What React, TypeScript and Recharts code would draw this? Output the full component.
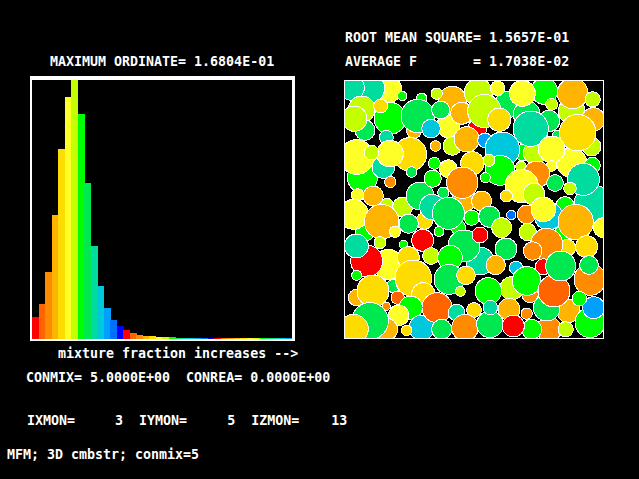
import { Bar, BarChart, Cell, Scatter, ScatterChart, XAxis, YAxis } from "recharts";

// colour table repeats every 14 bins
const palette = [
  "#ff0000", "#ff6400", "#ff8c00", "#ffb400", "#ffdc00", "#ffff28", "#c4ff00",
  "#00ff00", "#00e850", "#00dca0", "#00c8dc", "#00a0ff", "#0070ff", "#0000ff",
];

const pdfValues = [
  0.01445, 0.02288, 0.04361, 0.08055, 0.12332, 0.15702, 0.16804, 0.146, 0.10129, 0.06046,
  0.03454, 0.02028, 0.01251, 0.00862, 0.00603, 0.00408, 0.00279, 0.00214, 0.00214, 0.00149,
  0.00149, 0.00149, 0.0007, 0.0007, 0.0007, 0.0007, 0.0007, 0.0007, 0.0007, 0.0007,
  0.0007, 0.0007, 0.0007, 0.0007, 0.0007, 0.0007, 0.0007, 0.0007, 0.0007, 0.0007,
];

// blobs are [x, y, radius, colour bin] in field units, painted back to front
const backBlobs = [
  [130, 25, 40, 5], [172, 45, 14, 7], [75, 22, 44, 9], [20, 20, 38, 9], [50, 85, 40, 6],
  [60, 148, 30, 8], [135, 112, 48, 7], [107, 75, 21, 4], [207, 150, 22, 3], [230, 52, 16, 7],
  [322, 58, 42, 3], [398, 140, 28, 0], [400, 35, 42, 6], [490, 70, 40, 8], [545, 100, 40, 8],
  [680, 90, 40, 6], [745, 115, 35, 3], [740, 197, 28, 6], [640, 165, 18, 8], [598, 30, 40, 7],
  [612, 120, 32, 8], [310, 135, 35, 5], [322, 195, 28, 6], [535, 215, 25, 7], [570, 215, 35, 6],
  [680, 245, 45, 5], [52, 290, 45, 7], [115, 258, 34, 9], [195, 220, 50, 4], [382, 247, 35, 4],
  [355, 360, 35, 3], [410, 360, 30, 3], [125, 372, 20, 6], [173, 378, 30, 6], [225, 345, 42, 8],
  [340, 440, 22, 7], [238, 420, 25, 4], [60, 450, 30, 7], [745, 370, 58, 9], [660, 375, 28, 7],
  [775, 440, 30, 5], [610, 405, 42, 10], [545, 400, 28, 2], [655, 455, 25, 7], [667, 500, 25, 4],
];

const midBlobs = [
  [28, 113, 38, 6], [218, 105, 50, 8], [258, 143, 28, 10], [124, 169, 21, 9], [275, 38, 17, 6],
  [350, 97, 33, 3], [287, 87, 27, 8], [418, 90, 50, 6], [458, 22, 22, 5], [463, 116, 35, 4],
  [532, 37, 39, 5], [683, 37, 46, 3], [743, 55, 23, 6], [620, 70, 18, 6], [557, 143, 53, 9],
  [698, 155, 55, 4], [365, 175, 38, 3], [420, 178, 22, 11], [472, 205, 52, 10], [620, 205, 40, 5],
  [272, 195, 16, 3], [35, 228, 52, 5], [135, 218, 40, 5], [80, 215, 22, 6], [200, 273, 16, 8],
  [268, 247, 18, 7], [263, 293, 26, 7], [310, 263, 27, 5], [465, 268, 45, 7], [432, 238, 18, 6],
  [421, 290, 15, 7], [528, 257, 16, 6], [620, 255, 16, 5], [742, 253, 24, 7], [575, 280, 40, 2],
  [530, 315, 50, 5], [715, 295, 48, 9], [630, 306, 25, 8], [352, 305, 47, 2], [136, 303, 17, 2],
  [38, 342, 19, 5], [85, 345, 30, 3], [675, 322, 19, 6], [484, 345, 18, 4], [567, 340, 33, 6],
  [295, 335, 17, 8], [262, 378, 38, 9], [310, 397, 48, 8], [25, 400, 45, 5], [110, 422, 52, 3],
  [191, 428, 29, 8], [380, 410, 23, 7], [433, 407, 32, 8], [595, 385, 37, 5], [692, 423, 53, 3],
];

const frontBlobs = [
  [499, 402, 14, 12], [470, 440, 30, 6], [548, 453, 26, 6], [150, 452, 17, 5], [105, 485, 18, 6],
  [233, 478, 33, 0], [282, 452, 15, 7], [175, 490, 13, 7], [725, 497, 33, 4], [605, 490, 48, 2],
  [563, 510, 28, 2], [483, 504, 33, 8], [405, 540, 42, 9], [357, 495, 48, 8], [405, 462, 24, 0],
  [452, 552, 29, 3], [130, 550, 45, 5], [65, 540, 48, 0], [34, 495, 36, 9], [35, 583, 15, 7],
  [190, 530, 33, 4], [145, 615, 20, 8], [205, 592, 55, 4], [258, 525, 25, 6], [315, 530, 37, 7],
  [312, 595, 45, 8], [363, 583, 28, 4], [346, 631, 15, 6], [513, 560, 20, 10], [595, 557, 24, 0],
  [555, 640, 25, 2], [500, 622, 35, 6], [545, 600, 43, 7], [612, 745, 37, 2], [670, 690, 35, 3],
  [605, 680, 40, 8], [735, 595, 48, 2], [627, 630, 48, 1], [647, 555, 45, 8], [732, 552, 28, 8],
  [430, 630, 40, 7], [35, 650, 25, 3], [84, 630, 48, 4], [158, 650, 20, 1], [124, 676, 12, 2],
  [235, 640, 35, 4], [197, 680, 35, 7], [161, 703, 31, 5], [230, 740, 38, 10], [276, 680, 45, 1],
  [335, 695, 25, 9], [387, 687, 22, 4], [492, 685, 33, 3], [125, 745, 33, 3], [75, 720, 55, 8],
  [25, 745, 45, 4], [185, 748, 16, 4], [290, 745, 30, 8], [360, 740, 40, 2], [435, 730, 40, 8],
  [436, 680, 22, 9], [560, 745, 30, 7], [505, 735, 33, 0], [545, 698, 17, 2], [662, 745, 23, 6],
  [735, 725, 45, 7], [746, 680, 33, 11], [703, 653, 22, 7],
];

const labels = [
  { text: "ROOT MEAN SQUARE= 1.5657E-01", x: 345, y: 30 },
  { text: "AVERAGE F       = 1.7038E-02", x: 345, y: 54 },
  { text: "MAXIMUM ORDINATE= 1.6804E-01", x: 50, y: 54 },
  { text: "mixture fraction increases -->", x: 58, y: 346 },
  { text: "CONMIX= 5.0000E+00  CONREA= 0.0000E+00", x: 26, y: 370 },
  { text: "IXMON=     3  IYMON=     5  IZMON=    13", x: 27, y: 413 },
  { text: "MFM; 3D cmbstr; conmix=5", x: 7, y: 447 },
];

const pdfData = pdfValues.map((value, i) => ({ bin: i, value }));
const blobData = [...backBlobs, ...midBlobs, ...frontBlobs].map(([x, y, r, bin]) => ({ x, y, r, bin }));

// field units are 3 per screen pixel
function Blob(props: any) {
  const { cx, cy, payload } = props;
  return (
    <circle
      cx={cx}
      cy={cy}
      r={payload.r / 3}
      fill={palette[payload.bin]}
      stroke="#ffffff"
      strokeWidth={1}
      shapeRendering="crispEdges"
    />
  );
}

export default function App() {
  return (
    <div style={{ position: "fixed", left: 0, top: 0, width: 639, height: 479, background: "#000", overflow: "hidden" }}>
      {labels.map((l) => (
        <div
          key={l.text}
          style={{
            position: "absolute",
            left: l.x,
            top: l.y,
            color: "#fff",
            whiteSpace: "pre",
            fontFamily: "'DejaVu Sans Mono', monospace",
            fontWeight: "bold",
            fontSize: 13.3,
            lineHeight: "16px",
          }}
        >
          {l.text}
        </div>
      ))}

      {/* histogram frame */}
      <div
        style={{
          position: "absolute",
          left: 30,
          top: 76,
          width: 260,
          height: 259,
          borderStyle: "solid",
          borderColor: "#fff",
          borderWidth: "4px 3px 2px 2px",
        }}
      />
      <div style={{ position: "absolute", left: 32, top: 80 }}>
        <BarChart width={260} height={259} data={pdfData} margin={{ top: 0, right: 0, bottom: 0, left: 0 }} barCategoryGap={0}>
          <XAxis dataKey="bin" hide />
          <YAxis hide domain={[0, 0.16804]} allowDataOverflow />
          <Bar dataKey="value" isAnimationActive={false} shapeRendering="crispEdges">
            {pdfData.map((d) => (
              <Cell key={d.bin} fill={palette[d.bin % palette.length]} />
            ))}
          </Bar>
        </BarChart>
      </div>

      {/* blob field */}
      <div style={{ position: "absolute", left: 344, top: 80, width: 258, height: 257, border: "1px solid #fff", overflow: "hidden" }}>
        <ScatterChart width={258} height={257} margin={{ top: 0, right: 0, bottom: 0, left: 0 }}>
          <XAxis type="number" dataKey="x" hide domain={[0, 774]} allowDataOverflow />
          <YAxis type="number" dataKey="y" hide domain={[0, 771]} reversed allowDataOverflow />
          <Scatter data={blobData} isAnimationActive={false} shape={Blob} />
        </ScatterChart>
      </div>
    </div>
  );
}
